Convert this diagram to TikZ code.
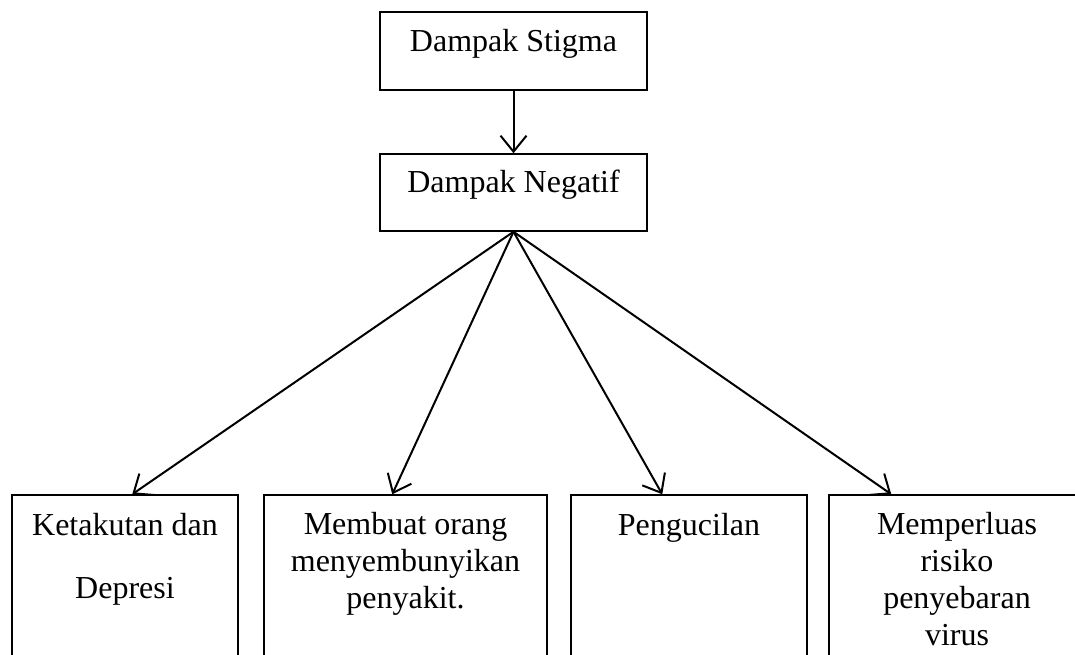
\documentclass[tikz,border=0pt]{standalone}
\usepackage{fontspec}
\setmainfont{Liberation Serif}
\usetikzlibrary{arrows.meta,calc}
\begin{document}
\begin{tikzpicture}[x=1pt,y=-1pt,
  box/.style={draw, line width=1.5pt, inner sep=0pt},
  lbl/.style={font=\fontsize{32}{37}\selectfont, align=center, inner sep=0pt, anchor=base},
  arr/.style={line width=2pt, -{Straight Barb[length=16pt,width=26pt,line width=2pt]}}]
\useasboundingbox (0,0) rectangle (1075,655);
\clip (0,0) rectangle (1075,655);
% boxes
\node[box, minimum width=267pt, minimum height=78pt] (s) at (513.5,51) {};
\node[box, minimum width=267pt, minimum height=77pt] (n) at (513.5,192.5) {};
\node[box, minimum width=226pt, minimum height=185pt] (b1) at (125,587.5) {};
\node[box, minimum width=283pt, minimum height=185pt] (b2) at (405.5,587.5) {};
\node[box, minimum width=236pt, minimum height=185pt] (b3) at (689,587.5) {};
\node[box, minimum width=256pt, minimum height=185pt] (b4) at (957,587.5) {};
% labels (anchor base = baseline of last line)
\node[lbl] (st) at (513.5,52) {Dampak Stigma};
\node[lbl] (nt) at (513.5,193) {Dampak Negatif};
\node[lbl] (t1) at (125,598) {Ketakutan dan\\[26pt]Depresi};
\node[lbl] (t2) at (405.5,608) {Membuat orang\\menyembunyikan\\penyakit.};
\node[lbl] (t3) at (689,535) {Pengucilan};
\node[lbl] (t4) at (957,645) {Memperluas\\risiko\\penyebaran\\virus};
% arrow end points
\coordinate (e1) at ($(b1.north west)+(121,0)$);
\coordinate (e2) at ($(b2.north west)+(129,0)$);
\coordinate (e3) at ($(b3.north west)+(92,0)$);
\coordinate (e4) at ($(b4.north west)+(63,0)$);
% connectors
\draw[arr] (s.south) -- (n.north);
\draw[arr] (n.south) -- (e1);
\draw[arr] (n.south) -- (e2);
\draw[arr] (n.south) -- (e3);
\draw[arr] (n.south) -- (e4);
\end{tikzpicture}
\end{document}
